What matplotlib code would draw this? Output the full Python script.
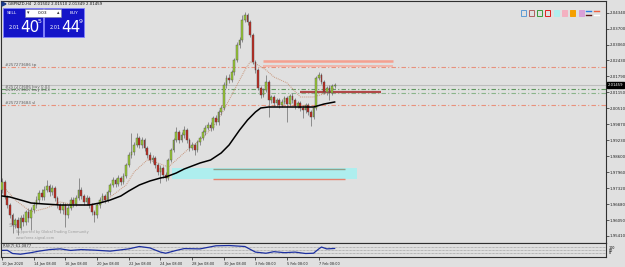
import numpy as np
import matplotlib.pyplot as plt
from matplotlib.patches import Rectangle
import matplotlib.transforms as mtransforms

# GBPNZD H4 candles
opens = [1.9725, 1.9757, 1.9697, 1.9665, 1.9625, 1.9585, 1.9605, 1.9573, 1.9613, 1.9597,
         1.9637, 1.9613, 1.9645, 1.9665, 1.9685, 1.9713, 1.9697, 1.9725, 1.9741, 1.9717,
         1.9733, 1.9693, 1.9665, 1.9645, 1.9665, 1.9625, 1.9653, 1.9685, 1.9669, 1.9693,
         1.9725, 1.9701, 1.9677, 1.9693, 1.9665, 1.9637, 1.9625, 1.9665, 1.9685, 1.9701,
         1.9685, 1.9717, 1.9745, 1.9765, 1.9749, 1.9773, 1.9757, 1.9781, 1.9825, 1.9865,
         1.9877, 1.9905, 1.9933, 1.9905, 1.9925, 1.9893, 1.9865, 1.9845, 1.9853, 1.9825,
         1.9797, 1.9813, 1.9785, 1.9773, 1.9845, 1.9885, 1.9925, 1.9957, 1.9925, 1.9945,
         1.9965, 1.9925, 1.9893, 1.9905, 1.9885, 1.9917, 1.9933, 1.9957, 1.9973, 1.9985,
         1.9973, 2.0013, 1.9997, 2.0037, 2.0053, 2.0145, 2.0173, 2.0165, 2.0197, 2.0245,
         2.0305, 2.0325, 2.0405, 2.0425, 2.0397, 2.0345, 2.0237, 2.0205, 2.0133, 2.0105,
         2.0125, 2.0157, 2.0085, 2.0097, 2.0073, 2.0085, 2.0065, 2.0077, 2.0093, 2.0069,
         2.0101, 2.0085, 2.0061, 2.0073, 2.0053, 2.0045, 2.0065, 2.0037, 2.0017, 2.0053,
         2.0173, 2.0185, 2.0157, 2.0117, 2.0133, 2.0113, 2.0141]
closes = [1.9757, 1.9697, 1.9665, 1.9625, 1.9585, 1.9605, 1.9573, 1.9613, 1.9597, 1.9637,
          1.9613, 1.9645, 1.9665, 1.9685, 1.9713, 1.9697, 1.9725, 1.9741, 1.9717, 1.9733,
          1.9693, 1.9665, 1.9645, 1.9665, 1.9625, 1.9653, 1.9685, 1.9669, 1.9693, 1.9725,
          1.9701, 1.9677, 1.9693, 1.9665, 1.9637, 1.9625, 1.9665, 1.9685, 1.9701, 1.9685,
          1.9717, 1.9745, 1.9765, 1.9749, 1.9773, 1.9757, 1.9781, 1.9825, 1.9865, 1.9877,
          1.9905, 1.9933, 1.9905, 1.9925, 1.9893, 1.9865, 1.9845, 1.9853, 1.9825, 1.9797,
          1.9813, 1.9785, 1.9773, 1.9845, 1.9885, 1.9925, 1.9957, 1.9925, 1.9945, 1.9965,
          1.9925, 1.9893, 1.9905, 1.9885, 1.9917, 1.9933, 1.9957, 1.9973, 1.9985, 1.9973,
          2.0013, 1.9997, 2.0037, 2.0053, 2.0145, 2.0173, 2.0165, 2.0197, 2.0245, 2.0305,
          2.0325, 2.0405, 2.0425, 2.0397, 2.0345, 2.0237, 2.0205, 2.0133, 2.0105, 2.0125,
          2.0157, 2.0085, 2.0097, 2.0073, 2.0085, 2.0065, 2.0077, 2.0093, 2.0069, 2.0101,
          2.0085, 2.0061, 2.0073, 2.0053, 2.0045, 2.0065, 2.0037, 2.0017, 2.0053, 2.0173,
          2.0185, 2.0157, 2.0117, 2.0133, 2.0113, 2.0141, 2.0146]
highs = [1.9773, 1.9765, 1.9705, 1.9673, 1.9633, 1.9613, 1.9617, 1.9625, 1.9629, 1.9645,
         1.9653, 1.9657, 1.9677, 1.9701, 1.9725, 1.9729, 1.9741, 1.9765, 1.9749, 1.9745,
         1.9741, 1.9701, 1.9673, 1.9677, 1.9673, 1.9665, 1.9697, 1.9697, 1.9705, 1.9773,
         1.9737, 1.9709, 1.9705, 1.9701, 1.9673, 1.9645, 1.9673, 1.9697, 1.9713, 1.9709,
         1.9725, 1.9753, 1.9777, 1.9773, 1.9785, 1.9781, 1.9793, 1.9833, 1.9877, 1.9953,
         1.9917, 1.9953, 1.9941, 1.9937, 1.9933, 1.9901, 1.9877, 1.9865, 1.9861, 1.9833,
         1.9825, 1.9821, 1.9797, 1.9853, 1.9893, 1.9933, 1.9977, 1.9965, 1.9957, 1.9981,
         1.9973, 1.9933, 1.9917, 1.9913, 1.9925, 1.9941, 1.9965, 1.9985, 1.9997, 1.9997,
         2.0021, 2.0025, 2.0045, 2.0065, 2.0157, 2.0185, 2.0189, 2.0205, 2.0253, 2.0317,
         2.0337, 2.0425, 2.0437, 2.0433, 2.0405, 2.0353, 2.0245, 2.0213, 2.0141, 2.0133,
         2.0185, 2.0165, 2.0105, 2.0105, 2.0093, 2.0093, 2.0089, 2.0101, 2.0101, 2.0109,
         2.0113, 2.0093, 2.0081, 2.0081, 2.0065, 2.0073, 2.0073, 2.0045, 2.0061, 2.0181,
         2.0197, 2.0193, 2.0165, 2.0141, 2.0145, 2.0149, 2.0153]
lows = [1.9713, 1.9689, 1.9653, 1.9613, 1.9553, 1.9573, 1.9545, 1.9565, 1.9581, 1.9585,
        1.9597, 1.9565, 1.9633, 1.9653, 1.9673, 1.9685, 1.9685, 1.9717, 1.9701, 1.9705,
        1.9681, 1.9653, 1.9633, 1.9629, 1.9577, 1.9613, 1.9645, 1.9657, 1.9661, 1.9685,
        1.9689, 1.9665, 1.9665, 1.9653, 1.9625, 1.9597, 1.9613, 1.9653, 1.9677, 1.9673,
        1.9677, 1.9705, 1.9737, 1.9737, 1.9741, 1.9745, 1.9749, 1.9773, 1.9817, 1.9853,
        1.9865, 1.9897, 1.9893, 1.9893, 1.9881, 1.9853, 1.9833, 1.9833, 1.9813, 1.9785,
        1.9753, 1.9773, 1.9761, 1.9765, 1.9837, 1.9877, 1.9917, 1.9913, 1.9917, 1.9933,
        1.9913, 1.9881, 1.9885, 1.9865, 1.9877, 1.9905, 1.9925, 1.9945, 1.9965, 1.9961,
        1.9965, 1.9985, 1.9985, 2.0025, 2.0045, 2.0133, 2.0153, 2.0157, 2.0185, 2.0237,
        2.0293, 2.0317, 2.0397, 2.0385, 2.0337, 2.0229, 2.0193, 2.0125, 2.0093, 2.0097,
        2.0117, 2.0017, 2.0073, 2.0061, 2.0061, 2.0053, 2.0057, 2.0069, 1.9997, 2.0061,
        2.0073, 2.0049, 2.0053, 2.0041, 2.0013, 2.0033, 2.0025, 1.9981, 2.0009, 2.0045,
        2.0165, 2.0149, 2.0109, 2.0105, 2.0085, 2.0105, 2.0133]

# moving averages (read at selected bars)
ma_slow_bars = [0, 3, 7, 11, 16, 22, 28, 33, 37, 41, 45, 48, 52, 56, 60, 62, 66, 69, 75, 79,
                83, 86, 90, 93, 96, 98, 101, 107, 113, 118, 122, 126]
ma_slow = [1.9701, 1.9697, 1.9685, 1.9673, 1.9669, 1.9665, 1.9665, 1.9665, 1.9673, 1.9685,
           1.9701, 1.9721, 1.9745, 1.9761, 1.9773, 1.9777, 1.9793, 1.9809, 1.9833, 1.9845,
           1.9873, 1.9905, 1.9965, 2.0005, 2.0037, 2.0053, 2.0057, 2.0057, 2.0057, 2.0057,
           2.0069, 2.0077]
ma_fast_bars = [1, 5, 11, 17, 22, 28, 33, 37, 41, 47, 50, 55, 58, 63, 66, 71, 75, 80, 84, 88,
                92, 94, 97, 100, 103, 108, 113, 118, 123, 126]
ma_fast = [1.9733, 1.9685, 1.9637, 1.9653, 1.9677, 1.9665, 1.9665, 1.9673, 1.9697, 1.9745,
           1.9797, 1.9845, 1.9837, 1.9817, 1.9845, 1.9893, 1.9925, 1.9977, 2.0045, 2.0125,
           2.0205, 2.0237, 2.0225, 2.0205, 2.0177, 2.0153, 2.0097, 2.0097, 2.0113, 2.0133]

# RSI(7)
rsi_bars = [0, 2, 4, 7, 11, 14, 18, 22, 26, 30, 35, 41, 48, 52, 56, 60, 62, 66, 69, 75, 81,
            86, 92, 96, 100, 103, 107, 111, 115, 118, 120, 121, 123, 126]
rsi = [47, 48, 25, 20, 31, 42, 53, 58, 47, 53, 49, 42, 58, 75, 65, 35, 27, 47, 60, 58, 80,
       82, 75, 35, 27, 38, 31, 35, 25, 27, 58, 71, 58, 61]

# order / object levels
tp_level = 2.0216
sl_level = 2.0064
buy_levels = [2.0128, 2.0114]
bid = 2.01459
zone_top, zone_bottom = 1.9813, 1.9767
zone_bars = (64.4, 134.5)
zone_lines = (1.9809, 1.9769)
zone_line_bars = (80, 130)
box_levels = (2.0242, 2.0221)
box_bars = (98.9, 148.1)
red_level = 2.0118
red_bars = (112.9, 143.6)

price_ticks = [2.04340, 2.03700, 2.03060, 2.02430, 2.01790, 2.01150, 2.00510, 1.99870,
               1.99230, 1.98600, 1.97960, 1.97320, 1.96680, 1.96050, 1.95410]
time_bars = [0, 12, 24, 36, 48, 60, 72, 84, 96, 108, 120]
time_labels = ["10 Jan 2020", "14 Jan 08:00", "16 Jan 08:00", "20 Jan 08:00", "22 Jan 08:00",
               "24 Jan 08:00", "28 Jan 08:00", "30 Jan 08:00", "3 Feb 08:00", "5 Feb 08:00",
               "7 Feb 08:00"]

BG = '#e0e0e0'
W, H = 625, 267
fig = plt.figure(figsize=(W / 100, H / 100), dpi=100, facecolor=BG)


def box(x0, y0, x1, y1):
    return [x0 / W, 1 - y1 / H, (x1 - x0) / W, (y1 - y0) / H]


ax = fig.add_axes(box(1, 1, 606, 243))
ax.set_facecolor(BG)
ax.set_xlim(-0.4, 228.8)
ax.set_ylim(1.9513, 2.0481)

# zone + lines
ax.add_patch(Rectangle((zone_bars[0], zone_bottom), zone_bars[1] - zone_bars[0],
                       zone_top - zone_bottom, color='#aeeeee', lw=0, zorder=1))
ax.hlines(zone_lines[0], *zone_line_bars, color='#8fa08a', lw=1, zorder=2)
ax.hlines(zone_lines[1], *zone_line_bars, color='#e8826e', lw=1, zorder=2)

# trade lines
dashdot = (0, (4, 2, 1, 2))
ax.axhline(tp_level, color='#e8917c', lw=0.8, ls=dashdot, zorder=2)
ax.axhline(sl_level, color='#e8917c', lw=0.8, ls=dashdot, zorder=2)
ax.axhline(buy_levels[0], color='#5f9a5f', lw=0.8, ls=dashdot, zorder=2)
ax.axhline(buy_levels[1], color='#8ab48a', lw=0.8, ls=dashdot, zorder=2)
ax.axhline(bid, color='#bdbdbd', lw=0.8, zorder=2)
ax.hlines(box_levels[0], *box_bars, color='#f4a090', lw=1.8, zorder=2)
ax.hlines(box_levels[1], *box_bars, color='#f4b0a4', lw=1.2, zorder=2)
ax.hlines(red_level, *red_bars, color='#b04848', lw=1.6, zorder=2)

lbl = dict(fontsize=2.9, color='#606060', va='bottom', ha='left', zorder=5)
ax.text(1.2, tp_level + 0.0002, '#257273686 tp', **lbl)
ax.text(1.2, buy_levels[0] + 0.0002, '#257273686 buy 0.03', **lbl)
ax.text(1.2, buy_levels[1] + 0.0001, '#257273687 buy 0.03', **lbl)
ax.text(1.2, sl_level + 0.0002, '#257273684 sl', **lbl)

# moving averages
ax.plot(ma_fast_bars, ma_fast, color='#c8957a', lw=0.7, ls=(0, (1, 1)), zorder=3)
ax.plot(ma_slow_bars, ma_slow, color='black', lw=1.1, zorder=6)

# candles
idx = np.arange(len(opens))
o, c = np.array(opens), np.array(closes)
up = c >= o
ax.vlines(idx, lows, highs, color='#6b6b6b', lw=0.5, zorder=4)
bottoms = np.minimum(o, c)
heights = np.maximum(np.abs(c - o), 0.0002)
ax.bar(idx[up], heights[up], bottom=bottoms[up], width=0.65, color='#9acd32',
       edgecolor='#4d4d4d', lw=0.3, zorder=5)
ax.bar(idx[~up], heights[~up], bottom=bottoms[~up], width=0.65, color='#c0281e',
       edgecolor='#4d4d4d', lw=0.3, zorder=5)

# axes styling
ax.yaxis.tick_right()
ax.set_yticks(price_ticks)
ax.set_yticklabels([f'{p:.5f}' for p in price_ticks])
ax.tick_params(axis='y', labelsize=2.8, length=2, pad=0.8, width=0.5, colors='#202020')
ax.set_xticks([])
for s in ax.spines.values():
    s.set_color('#303030')
    s.set_linewidth(0.8)
tr = mtransforms.blended_transform_factory(ax.transAxes, ax.transData)
ax.text(1.003, bid, f'{bid:.5f}', transform=tr, fontsize=2.7, color='white', va='center',
        ha='left', bbox=dict(boxstyle='square,pad=0.2', fc='black', ec='black'), zorder=10)

ax.text(0.012, 0.067, 'Sce', transform=ax.transAxes, fontsize=4, color='#b4b4b4',
        ha='left', fontweight='bold')
ax.text(0.024, 0.04, 'Supported by Global Trading Community', transform=ax.transAxes,
        fontsize=2.5, color='#9a9a9a', ha='left')
ax.text(0.024, 0.018, 'www.forex-signal.com', transform=ax.transAxes,
        fontsize=2.5, color='#9a9a9a', ha='left')

# RSI window
rx = fig.add_axes(box(1, 243, 606, 257))
rx.set_facecolor(BG)
rx.set_xlim(-0.4, 228.8)
rx.set_ylim(0, 100)
for lv in (70, 50, 30):
    rx.axhline(lv, color='#8c8c8c', lw=0.5, ls=(0, (1, 1)))
rx.plot(rsi_bars, rsi, color='#1c2fa0', lw=0.9)
rx.yaxis.tick_right()
rx.set_yticks([70, 50, 30])
rx.set_yticklabels(['100', '50', '0'])
rx.tick_params(axis='y', labelsize=2.4, length=0, pad=2)
rx.set_xticks(time_bars)
rx.set_xticklabels(time_labels, ha='left')
rx.tick_params(axis='x', labelsize=2.5, length=2, pad=1.5, width=0.5, colors='#202020')
for s in rx.spines.values():
    s.set_color('#303030')
    s.set_linewidth(0.8)
rx.text(0.003, 0.93, 'RSI(7) 61.0877', transform=rx.transAxes, fontsize=2.7,
        color='#303030', va='top')

# overlay: title, one-click panel, object icons
ui = fig.add_axes([0, 0, 1, 1])
ui.set_xlim(0, W)
ui.set_ylim(H, 0)
ui.axis('off')
ui.patch.set_alpha(0)
ui.add_patch(plt.Polygon([[2, 2], [6, 4], [2, 6]], color='#1b3a8a'))
ui.text(8, 4, 'GBPNZD,H4  2.01502 2.01510 2.01349 2.01459', fontsize=2.8, va='center',
        color='#101010')
for x0 in (3, 44):
    ui.add_patch(Rectangle((x0, 8), 40, 29, fc='#1414c8', ec='#7f7fff', lw=0.6))
ui.add_patch(Rectangle((25, 9), 36, 8, fc='white', ec='#8080a0', lw=0.4))
ui.text(28, 13, '\u25be', fontsize=3.5, ha='center', va='center', color='#303030')
ui.text(58, 13, '\u25b4', fontsize=3.5, ha='center', va='center', color='#303030')
ui.text(43, 13, '0.03', fontsize=3.2, ha='center', va='center', color='#101010')
ui.text(7, 12.5, 'SELL', fontsize=3.2, va='center', color='white')
ui.text(70, 12.5, 'BUY', fontsize=3.2, va='center', color='white')
ui.text(9, 27.5, '2.01', fontsize=3.6, va='center', color='white')
ui.text(20, 27, '40', fontsize=11, va='center', color='white')
ui.text(38, 21.5, '5', fontsize=4.5, va='center', color='white')
ui.text(50, 27.5, '2.01', fontsize=3.6, va='center', color='white')
ui.text(61, 27, '44', fontsize=11, va='center', color='white')
ui.text(79, 21.5, '9', fontsize=4.5, va='center', color='white')

icons = [('#e0e0e0', '#5b9bd5'), ('#e0e0e0', '#b06060'), ('#e0e0e0', '#3a9a3a'),
         ('#e0e0e0', '#e02020'), ('#b0eeee', '#b0eeee'), ('#f4b0c0', '#f4b0c0'),
         ('#f5a000', '#f5a000'), ('#d8a0d8', '#d8a0d8')]
for k, (fc, ec) in enumerate(icons):
    ui.add_patch(Rectangle((520.5 + k * 8.3, 10), 5, 6, fc=fc, ec=ec, lw=0.7))
ui.plot([586, 591], [11, 11], color='#2a7de1', lw=1)
ui.plot([586, 591], [15, 15], color='#5a1a1a', lw=1)
ui.plot([594, 599], [11, 11], color='#f06040', lw=1)
ui.plot([594, 599], [15, 15], color='white', lw=1)

fig.savefig('out.png', dpi=100, facecolor=BG)
